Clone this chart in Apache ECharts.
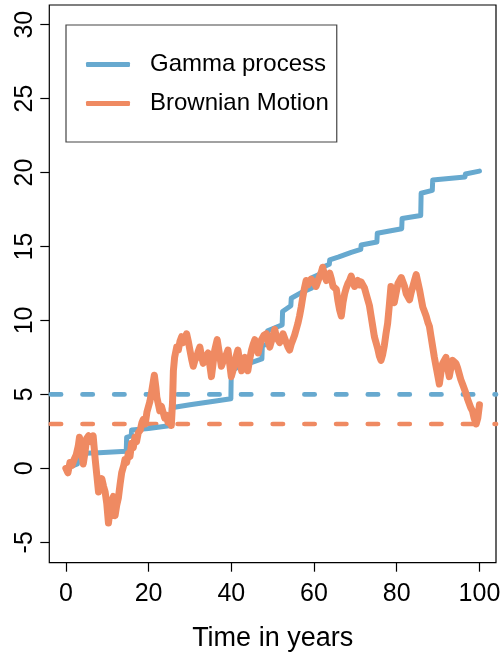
<!DOCTYPE html>
<html>
<head>
<meta charset="utf-8">
<script src="https://cdn.jsdelivr.net/npm/echarts@6/dist/echarts.min.js"></script>
<style>
html,body{margin:0;padding:0;background:#fff;}
#chart{width:501px;height:652px;}
</style>
</head>
<body>
<div id="chart"></div>
<script>
// ---- data ----
const xTicks = [0, 20, 40, 60, 80, 100];
const yTicks = [-5, 0, 5, 10, 15, 20, 25, 30];
const seriesNames = ['Gamma process', 'Brownian Motion'];
const thresholdGamma = 5;
const thresholdBrownian = 3;

const gammaTime = [0, 1, 2.8, 2.8, 8, 14.6, 14.7, 15.8, 15.9, 20, 25.4, 25.5, 30, 35, 39.9, 40, 42, 44.3, 47.4, 47.5, 48.7, 48.8, 52.3, 52.4, 54.4, 54.5, 57, 59.5, 59.6, 62, 62.1, 63.7, 63.8, 66, 69, 71.3, 71.4, 75.2, 75.3, 81.2, 81.3, 85.8, 85.9, 88.6, 88.7, 96.5, 96.6, 100];
const gammaValue = [0, 0.1, 0.3, 1.0, 1.05, 1.15, 2.1, 2.2, 2.6, 2.7, 2.9, 4.1, 4.3, 4.5, 4.7, 6.6, 6.9, 7.1, 7.4, 8.3, 8.4, 9.3, 9.7, 10.6, 11.0, 11.5, 11.9, 12.2, 12.9, 13.2, 13.6, 13.8, 14.1, 14.3, 14.6, 14.8, 15.1, 15.3, 15.9, 16.2, 16.9, 17.1, 18.6, 18.8, 19.5, 19.7, 19.9, 20.1];

const bmTime = [0, 0.5, 1, 1.5, 2, 2.5, 3, 3.3, 3.7, 4.2, 4.6, 5.0, 5.5, 6.0, 6.6, 7.1, 7.5, 7.9, 8.3, 8.7, 9.1, 9.5, 9.9, 10.3, 10.7, 11.1, 11.5, 11.9, 12.3, 12.7, 13.1, 13.5, 14.0, 14.3, 14.7, 15.1, 15.5, 15.9, 16.3, 16.7, 17.1, 17.5, 18.0, 18.4, 18.7, 19.2, 19.6, 19.9, 20.3, 20.7, 21.1, 21.4, 21.8, 22.0, 22.4, 22.7, 23.1, 23.5, 23.9, 24.3, 24.7, 25.1, 25.5, 25.8, 26.0, 26.3, 26.8, 27.2, 27.6, 28.0, 28.4, 28.8, 29.2, 29.6, 30.0, 30.4, 30.8, 31.2, 31.6, 32.0, 32.4, 32.8, 33.2, 33.6, 34.0, 34.4, 34.8, 35.2, 35.6, 36.0, 36.6, 37.1, 37.6, 38.0, 38.4, 38.8, 39.2, 39.6, 40.0, 40.4, 40.8, 41.2, 41.6, 42.0, 42.5, 42.9, 43.3, 43.7, 44.0, 44.4, 44.9, 45.3, 45.7, 46.1, 46.5, 46.9, 47.3, 47.9, 48.5, 48.9, 49.3, 49.9, 50.5, 50.9, 51.3, 51.7, 52.1, 52.5, 52.9, 53.3, 53.7, 54.1, 54.5, 54.9, 55.3, 55.7, 56.1, 56.5, 56.9, 57.3, 57.7, 58.1, 58.5, 58.9, 59.3, 59.7, 60.1, 60.5, 61.0, 61.4, 61.8, 62.1, 62.5, 63.0, 63.4, 63.8, 64.2, 64.6, 65.0, 65.4, 65.8, 66.2, 66.6, 67.0, 67.4, 67.8, 68.2, 68.6, 69.0, 69.4, 69.8, 70.2, 70.6, 71.0, 71.4, 71.8, 72.2, 72.6, 73.0, 73.4, 73.8, 74.2, 74.6, 75.0, 75.4, 75.8, 76.2, 76.6, 77.0, 77.4, 77.8, 78.2, 78.6, 79.0, 79.4, 79.8, 80.3, 80.7, 81.1, 81.4, 81.9, 82.3, 82.7, 83.1, 83.5, 83.9, 84.3, 84.7, 85.1, 85.5, 85.9, 86.3, 86.7, 87.1, 87.5, 87.9, 88.3, 88.7, 89.1, 89.5, 89.9, 90.3, 90.7, 91.1, 91.5, 91.9, 92.3, 92.7, 93.1, 93.5, 93.9, 94.3, 94.7, 95.1, 95.5, 95.9, 96.3, 96.7, 97.1, 97.5, 97.9, 98.3, 98.7, 99.2, 99.6, 100];
const bmValue = [0, -0.3, 0.4, 0.2, 0.6, 0.9, 1.5, 2.1, 1.4, 0.3, 1.0, 2.0, 2.2, 1.8, 2.2, 0.6, -0.5, -1.6, -1.0, -0.7, -1.2, -1.6, -2.4, -3.7, -2.8, -2.2, -1.9, -3.2, -2.5, -2.0, -1.1, -0.3, 0.2, 0.6, 0.4, 1.0, 0.8, 1.7, 1.4, 2.1, 1.8, 2.4, 2.6, 3.1, 3.3, 3.0, 3.8, 3.9, 4.5, 5.1, 5.8, 6.3, 5.4, 4.8, 4.3, 3.9, 4.2, 3.8, 3.4, 3.6, 3.1, 3.3, 2.9, 4.5, 6.6, 7.5, 8.2, 8.0, 8.6, 8.9, 8.5, 8.8, 9.1, 8.6, 8.0, 7.4, 6.9, 7.3, 7.5, 7.9, 8.2, 7.6, 7.1, 7.3, 7.6, 7.8, 7.0, 6.2, 7.1, 8.0, 8.7, 7.8, 6.9, 7.2, 7.5, 7.7, 8.0, 7.1, 6.2, 6.6, 7.1, 7.6, 8.0, 7.3, 6.6, 7.1, 7.5, 7.0, 6.6, 7.3, 8.0, 8.4, 8.7, 8.2, 7.8, 8.3, 8.7, 9.0, 9.1, 8.6, 8.2, 8.8, 9.4, 8.9, 8.7, 8.5, 8.8, 9.1, 8.8, 8.5, 8.2, 8.0, 8.4, 8.7, 9.0, 9.4, 9.8, 10.3, 10.9, 11.6, 12.2, 12.7, 12.4, 12.5, 12.8, 12.7, 12.5, 12.3, 12.7, 13.0, 13.3, 13.6, 13.1, 12.7, 13.0, 13.2, 12.8, 12.3, 12.2, 12.1, 11.3, 10.7, 10.3, 11.2, 11.8, 12.2, 12.5, 12.7, 13.0, 12.6, 12.3, 12.5, 12.7, 12.4, 12.6, 12.5, 12.2, 11.8, 11.4, 11.0, 10.3, 9.6, 8.9, 8.5, 8.1, 7.6, 7.3, 7.7, 8.3, 9.1, 9.8, 11.0, 12.3, 11.6, 11.2, 11.8, 12.5, 12.7, 12.9, 13.0, 12.3, 11.8, 11.6, 11.4, 11.9, 12.3, 12.7, 13.1, 12.6, 12.1, 11.5, 10.9, 10.6, 10.3, 9.9, 9.6, 8.9, 8.2, 7.5, 6.9, 6.3, 5.7, 6.5, 7.1, 7.3, 7.5, 6.8, 6.2, 6.8, 7.3, 7.2, 7.1, 6.8, 6.4, 6.0, 5.7, 5.4, 5.1, 4.7, 4.4, 4.1, 3.9, 3.4, 3.0, 3.4, 4.3];

// ---- build ----
const BLUE = '#67a9cf';
const ORANGE = '#ef8a62';
const FONT = '"Liberation Sans", Arial, Helvetica, sans-serif';
const X_MIN = -4, X_MAX = 104, Y_MIN = -6.38, Y_MAX = 31.33;

const pair = (xs, ys) => xs.map((x, i) => [x, ys[i]]);

const chart = echarts.init(document.getElementById('chart'), null, {renderer: 'canvas'});
chart.setOption({
  animation: false,
  backgroundColor: '#fff',
  grid: {left: 49.3, right: 5, top: 5, bottom: 89.3, containLabel: false, outerBoundsMode: 'none',
    show: true, borderColor: '#000', borderWidth: 1.2, backgroundColor: 'transparent'},
  xAxis: {
    type: 'value', min: X_MIN, max: X_MAX,
    name: 'Time in years', nameLocation: 'middle', nameGap: 62,
    nameTextStyle: {fontFamily: FONT, fontSize: 27, color: '#000'},
    axisLine: {show: false, onZero: false},
    axisTick: {show: true, length: 9, inside: false, customValues: xTicks, lineStyle: {color: '#000', width: 1.2}},
    axisLabel: {show: true, customValues: xTicks, margin: 19, fontFamily: FONT, fontSize: 25, color: '#000'},
    splitLine: {show: false}
  },
  yAxis: {
    type: 'value', min: Y_MIN, max: Y_MAX,
    axisLine: {show: false, onZero: false},
    axisTick: {show: true, length: 9, customValues: yTicks, lineStyle: {color: '#000', width: 1.2}},
    axisLabel: {show: true, customValues: yTicks, rotate: 90, margin: 12, fontFamily: FONT, fontSize: 25, color: '#000'},
    splitLine: {show: false}
  },
  legend: {
    data: seriesNames,
    orient: 'vertical',
    left: 66, top: 25,
    padding: [25, 8, 24, 20],
    itemGap: 10,
    itemWidth: 44, itemHeight: 5,
    icon: 'roundRect',
    borderColor: '#444', borderWidth: 1.2, borderRadius: 0,
    backgroundColor: '#fff',
    textStyle: {fontFamily: FONT, fontSize: 24, color: '#000', lineHeight: 29, padding: [0, 0, 0, 15]}
  },
  series: [
    {
      type: 'line', silent: true, showSymbol: false, z: 1,
      data: [[X_MIN, thresholdGamma], [X_MAX, thresholdGamma]],
      lineStyle: {color: BLUE, width: 4.7, type: [10.3, 21.4], dashOffset: 30.2, cap: 'round'}
    },
    {
      type: 'line', silent: true, showSymbol: false, z: 1,
      data: [[X_MIN, thresholdBrownian], [X_MAX, thresholdBrownian]],
      lineStyle: {color: ORANGE, width: 4.7, type: [10.3, 21.4], dashOffset: 30.2, cap: 'round'}
    },
    {
      name: seriesNames[0], type: 'line', showSymbol: false, z: 2,
      data: pair(gammaTime, gammaValue),
      itemStyle: {color: BLUE},
      lineStyle: {color: BLUE, width: 5, join: 'round', cap: 'round'}
    },
    {
      name: seriesNames[1], type: 'line', showSymbol: false, z: 3,
      data: pair(bmTime, bmValue),
      itemStyle: {color: ORANGE},
      lineStyle: {color: ORANGE, width: 7, join: 'round', cap: 'round'}
    }
  ]
});
</script>
</body>
</html>
